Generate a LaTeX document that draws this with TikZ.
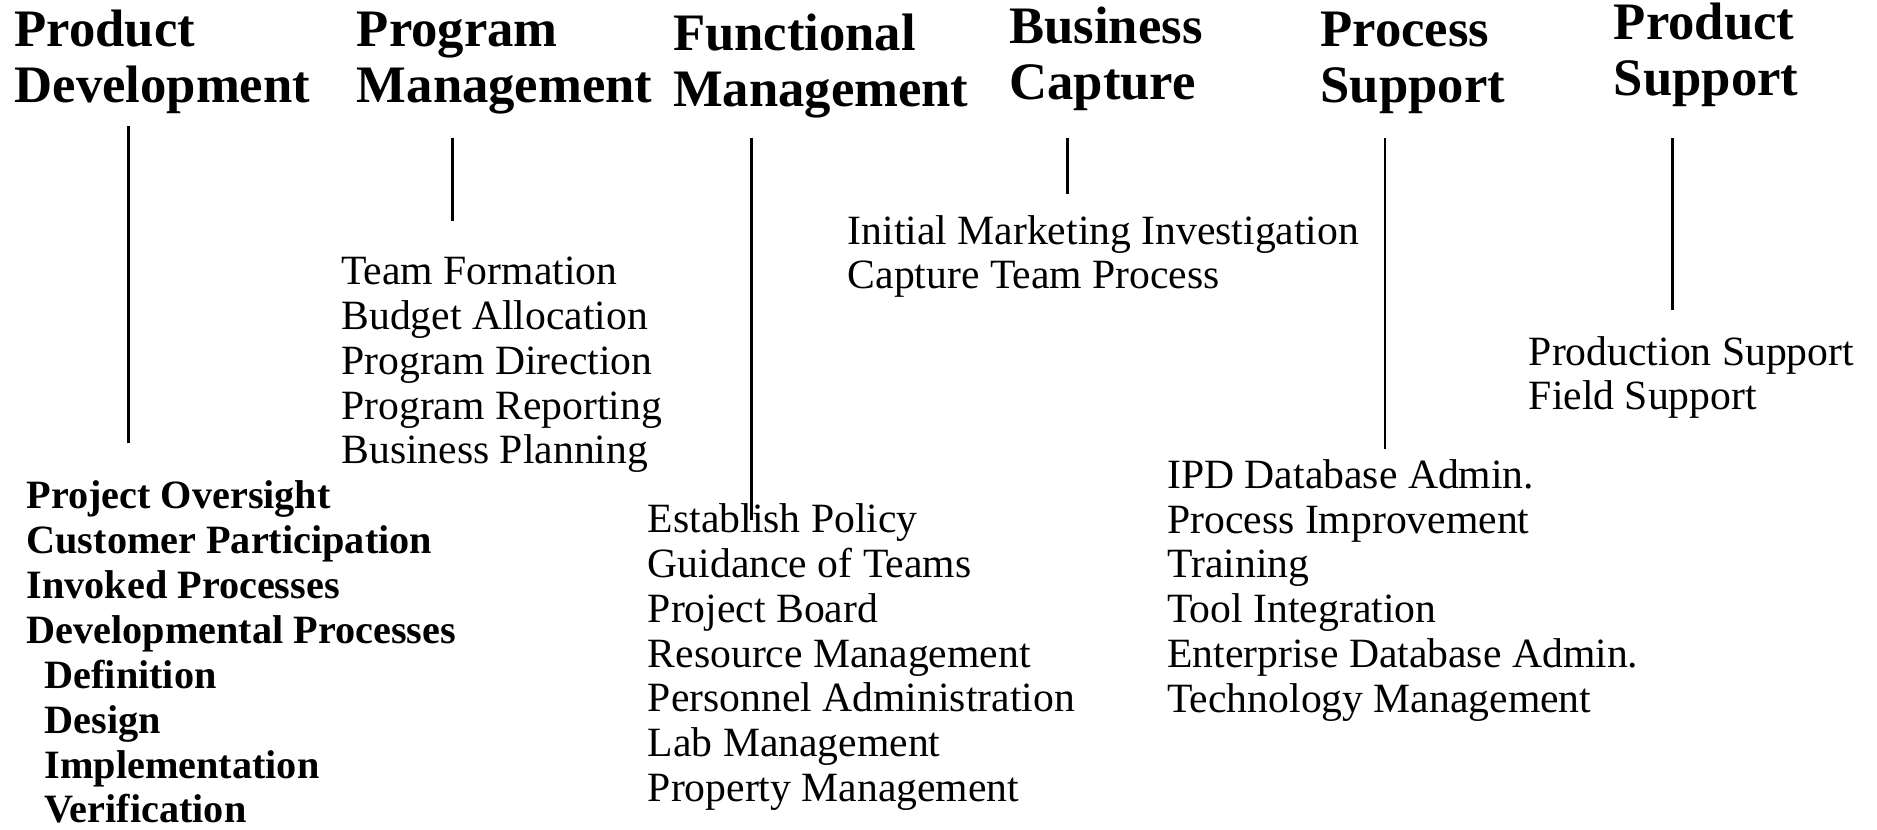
\documentclass[tikz,border=0pt]{standalone}
\usepackage{fontspec}
\setmainfont{Liberation Serif}
\begin{document}
\begin{tikzpicture}[x={(1pt,0)},y={(0,-1pt)},
  hdr/.style={anchor=base west, inner sep=0pt, align=left, font=\fontsize{44}{47}\selectfont\bfseries},
  items/.style={anchor=base west, inner sep=0pt, align=left, font=\fontsize{34.8}{37.4}\selectfont},
  bitems/.style={anchor=base west, inner sep=0pt, align=left, font=\fontsize{33.6}{37.5}\selectfont\bfseries},
  conn/.style={line width=2.4pt}]
\useasboundingbox (0,0) rectangle (1568,693);
% headers (anchored at the baseline of their last line)
\node[hdr] (pd) at (12,86) {Product\\Development};
\node[hdr] (pm) at (298,86) {Program\\Management};
\node[hdr] (fm) at (562,89) {Functional\\Management};
\node[hdr] (bc) at (843,83) {Business\\Capture};
\node[hdr] (ps) at (1103,86) {Process\\Support};
\node[hdr] (prs) at (1348,80) {Product\\Support};
% lists (anchored at the baseline of their last line)
\node[bitems] (pdl) at (22,687.5) {Project Oversight\\Customer Participation\\Invoked Processes\\Developmental Processes\\
  \hspace*{15pt}Definition\\\hspace*{15pt}Design\\\hspace*{15pt}Implementation\\\hspace*{15pt}Verification};
\node[items] (pml) at (285,387.6) {Team Formation\\Budget Allocation\\Program Direction\\Program Reporting\\Business Planning};
\node[items] (fml) at (541,669.4) {Establish Policy\\Guidance of Teams\\Project Board\\Resource Management\\Personnel Administration\\Lab Management\\Property Management};
\node[items] (bcl) at (708,241.4) {Initial Marketing Investigation\\Capture Team Process};
\node[items] (psl) at (975,595) {IPD Database Admin.\\Process Improvement\\Training\\Tool Integration\\Enterprise Database Admin.\\Technology Management};
\node[items] (prsl) at (1277,342.4) {Production Support\\Field Support};
% connector ends
\coordinate (pdt) at (107,105); \coordinate (pdb) at (107,370);
\coordinate (pmt) at (378,115); \coordinate (pmb) at (378,185);
\coordinate (fmt) at (628,115); \coordinate (fmb) at (628,434);
\coordinate (bct) at (892,115); \coordinate (bcb) at (892,162);
\coordinate (pst) at (1157,115); \coordinate (psb) at (1157,375);
\coordinate (prst) at (1397,115); \coordinate (prsb) at (1397,259);
\draw[conn] (pdt) -- (pdb);
\draw[conn] (pmt) -- (pmb);
\draw[conn] (fmt) -- (fmb);
\draw[conn] (bct) -- (bcb);
\draw[conn] (pst) -- (psb);
\draw[conn] (prst) -- (prsb);
\end{tikzpicture}
\end{document}
